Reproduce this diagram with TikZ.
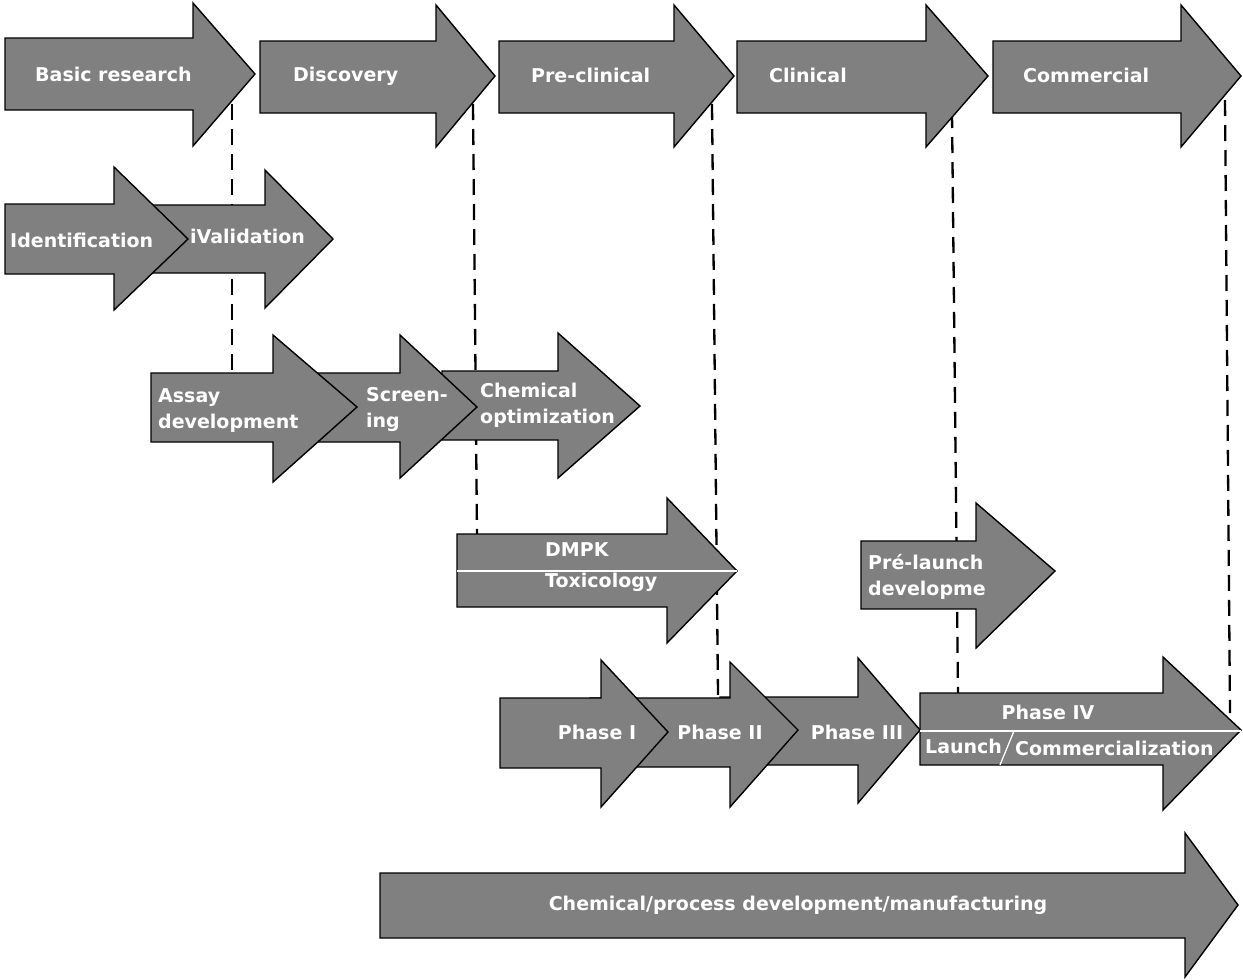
\documentclass[tikz,border=0pt]{standalone}
\usepackage{fontspec}
\setmainfont{DejaVu Sans}
\begin{document}
\begin{tikzpicture}[x=1pt,y=-1pt,
  arrowbox/.style={draw=black,fill=arrowgray,line width=1.4pt,line join=miter},
  lbl/.style={text=white,font=\bfseries\fontsize{19}{26}\selectfont,inner sep=0pt,align=left},
  guide/.style={draw=black,line width=2.3pt,dash pattern=on 16pt off 9pt},
  sep/.style={draw=white,line width=1.3pt}]
\definecolor{arrowgray}{RGB}{128,128,128}
\newcommand{\garrow}[8]{\path[arrowbox] (#1,#3) -- (#2,#3) -- (#2,#5) -- (#7,#8) -- (#2,#6) -- (#2,#4) -- (#1,#4) -- cycle;}
\useasboundingbox (0,0) rectangle (1243,980);
\fill[white] (0,0) rectangle (1243,980);
% dashed guide lines (behind arrows)
\coordinate (g1a) at (232,104); \coordinate (g1b) at (232,372);
\coordinate (g2a) at (473,104); \coordinate (g2b) at (477,534);
\coordinate (g3a) at (712,104); \coordinate (g3b) at (718,695);
\coordinate (g4a) at (952,112); \coordinate (g4b) at (958,693);
\coordinate (g5a) at (1225,100); \coordinate (g5b) at (1230,713);
\draw[guide] (g1a) -- (g1b);
\draw[guide] (g2a) -- (g2b);
\draw[guide] (g3a) -- (g3b);
\draw[guide] (g4a) -- (g4b);
\draw[guide] (g5a) -- (g5b);
% row 1
\garrow{5}{193}{38}{110}{3}{146}{255}{74}
\garrow{260}{436}{41}{113}{5}{147}{495}{76}
\garrow{499}{674}{41}{113}{5}{147}{734}{76}
\garrow{737}{926}{41}{113}{5}{147}{988}{76}
\garrow{993}{1181}{41}{113}{5}{147}{1241}{76}
\node[lbl,anchor=west] (basic) at (35,74) {Basic research};
\node[lbl,anchor=west] (disc) at (293,76) {Discovery};
\node[lbl,anchor=west] (precl) at (531,75) {Pre-clinical};
\node[lbl,anchor=west] (clin) at (769,75) {Clinical};
\node[lbl,anchor=west] (comm) at (1023,75) {Commercial};
% row 2
\garrow{150}{265}{205}{273}{170}{308}{333}{239}
\garrow{5}{114}{204}{274}{167}{310}{188}{239}
\node[lbl,anchor=west] (ident) at (10,240) {Identification};
\node[lbl,anchor=west] (valid) at (190,236) {iValidation};
% row 3
\garrow{442}{558}{371}{440}{333}{478}{640}{406}
\garrow{290}{400}{373}{442}{335}{478}{477}{407}
\garrow{151}{273}{373}{442}{335}{482}{357}{407}
\node[lbl,anchor=west] (assay) at (158,411) {Assay\\development};
\node[lbl,anchor=west] (screen) at (366,409) {Screen-\\ing};
\node[lbl,anchor=west] (chemopt) at (480,405) {Chemical\\optimization};
% row 4
\garrow{457}{667}{534}{607}{498}{643}{737}{571}
\coordinate (dl) at (457,571); \coordinate (dr) at (737,571);
\draw[sep] (dl) -- (dr);
\node[lbl,anchor=west] (dmpk) at (545,550) {DMPK};
\node[lbl,anchor=west] (tox) at (545,582) {Toxicology};
\garrow{861}{976}{541}{609}{503}{648}{1055}{571}
\node[lbl,anchor=west] (prel) at (868,577) {Pré-launch\\developme};
% row 5
\garrow{720}{858}{697}{765}{658}{803}{920}{730}
\garrow{590}{730}{698}{767}{662}{807}{798}{730}
\garrow{500}{601}{698}{768}{660}{807}{668}{732}
\garrow{920}{1163}{693}{765}{657}{810}{1241}{730}
\coordinate (pl) at (920,731); \coordinate (pr) at (1241,731);
\draw[sep] (pl) -- (pr);
\coordinate (sa) at (1014,731); \coordinate (sb) at (1000,765);
\draw[sep] (sa) -- (sb);
\node[lbl] (p1) at (597,732) {Phase I};
\node[lbl] (p2) at (720,732) {Phase II};
\node[lbl] (p3) at (857,732) {Phase III};
\node[lbl] (p4) at (1048,712) {Phase IV};
\node[lbl,anchor=west] (launch) at (925,746) {Launch};
\node[lbl,anchor=west] (commz) at (1015,748) {Commercialization};
% row 6
\garrow{380}{1185}{873}{938}{833}{977}{1238}{905}
\node[lbl] (chemproc) at (798,905) {Chemical/process development/manufacturing};
\end{tikzpicture}
\end{document}
